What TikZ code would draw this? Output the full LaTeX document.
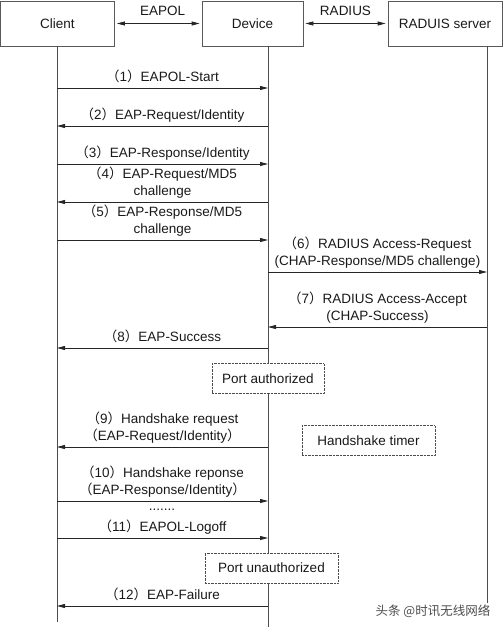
\documentclass[tikz,border=0pt]{standalone}
\usepackage{fontspec}
\setmainfont{Liberation Sans}
\newfontfamily\cjk{Noto Sans CJK SC}
\usetikzlibrary{arrows.meta}

\newcommand{\msgno}[1]{{\cjk （}#1{\cjk ）}}

\tikzset{
  entity/.style={draw=black!65, line width=0.8pt, minimum height=45pt, inner sep=0pt},
  lifeline/.style={draw=black!70, line width=0.8pt},
  msg/.style={draw=black!85, line width=0.8pt, -{Triangle[length=8pt,width=4pt]}},
  link/.style={draw=black!85, line width=0.8pt, {Triangle[length=8pt,width=4pt]}-{Triangle[length=8pt,width=4pt]}, shorten <=2pt, shorten >=2pt},
  msglabel/.style={above=3.5pt, inner sep=0pt, text depth=3pt, align=center},
  state/.style={draw=black!70, densely dotted, fill=white, minimum height=30pt, inner sep=0pt},
}

\begin{document}
\begin{tikzpicture}[x=1pt, y=-1pt, font=\fontsize{13.5}{17}\selectfont, text=black!90]
    \useasboundingbox (0,0) rectangle (503,627);

    % entities
    \node[entity, minimum width=114pt] (client) at (57.5,23.5) {Client};
    \node[entity, minimum width=101pt] (device) at (252.5,23.5) {Device};
    \node[entity, minimum width=114pt] (server) at (445,23.5) {RADUIS server};
    \draw[link] (client.east) -- node[above=4pt, pos=0.55] {EAPOL} (device.west); % EAPOL
    \draw[link] (device.east) -- node[above=4pt] {RADIUS} (server.west); % RADIUS

    % lifelines
    \coordinate (cl) at (57,46);
    \coordinate (dv) at (268,46);
    \coordinate (sv) at (487,46);
    \coordinate (clend) at (57,622);
    \coordinate (dvend) at (268,627);
    \coordinate (svend) at (487,603);
    \draw[lifeline] (cl) -- (clend);
    \draw[lifeline] (dv) -- (dvend);
    \draw[lifeline] (sv) -- (svend);

    % authentication
    \draw[msg] (cl |- 0,88) -- node[msglabel] {\msgno{1}EAPOL-Start} (dv |- 0,88); % 1
    \draw[msg] (dv |- 0,126) -- node[msglabel] {\msgno{2}EAP-Request/Identity} (cl |- 0,126); % 2
    \draw[msg] (cl |- 0,164) -- node[msglabel] {\msgno{3}EAP-Response/Identity} (dv |- 0,164); % 3
    \draw[msg] (dv |- 0,202) -- node[msglabel] {\msgno{4}EAP-Request/MD5\\challenge} (cl |- 0,202); % 4
    \draw[msg] (cl |- 0,240) -- node[msglabel] {\msgno{5}EAP-Response/MD5\\challenge} (dv |- 0,240); % 5
    \draw[msg] (dv |- 0,272) -- node[msglabel] {\msgno{6}RADIUS Access-Request\\(CHAP-Response/MD5 challenge)} (sv |- 0,272); % 6
    \draw[msg] (sv |- 0,327) -- node[msglabel] {\msgno{7}RADIUS Access-Accept\\(CHAP-Success)} (dv |- 0,327); % 7
    \draw[msg] (dv |- 0,348) -- node[msglabel] {\msgno{8}EAP-Success} (cl |- 0,348); % 8
    \node[state, minimum width=112pt] (authorized) at (268,378.5) {Port authorized};

    % handshake
    \draw[msg] (dv |- 0,447) -- node[msglabel] {\msgno{9}Handshake request\\{\cjk （}EAP-Request/Identity{\cjk ）}} (cl |- 0,447); % 9
    \node[state, minimum width=133pt] (timer) at (368.5,440.5) {Handshake timer};
    \draw[msg] (cl |- 0,501) -- node[msglabel] {\msgno{10}Handshake reponse\\{\cjk （}EAP-Response/Identity{\cjk ）}} (dv |- 0,501); % 10
    \node (dots) at (162,510) {.......};

    % logoff
    \draw[msg] (cl |- 0,538) -- node[msglabel] {\msgno{11}EAPOL-Logoff} (dv |- 0,538); % 11
    \node[state, minimum width=133pt] (unauthorized) at (271.5,568) {Port unauthorized};
    \draw[msg] (dv |- 0,606) -- node[msglabel] {\msgno{12}EAP-Failure} (cl |- 0,606); % 12

    \node[font=\cjk\fontsize{12.5}{14}\selectfont, text=black!70] (mark) at (433,611) {头条 @时讯无线网络};
\end{tikzpicture}
\end{document}
